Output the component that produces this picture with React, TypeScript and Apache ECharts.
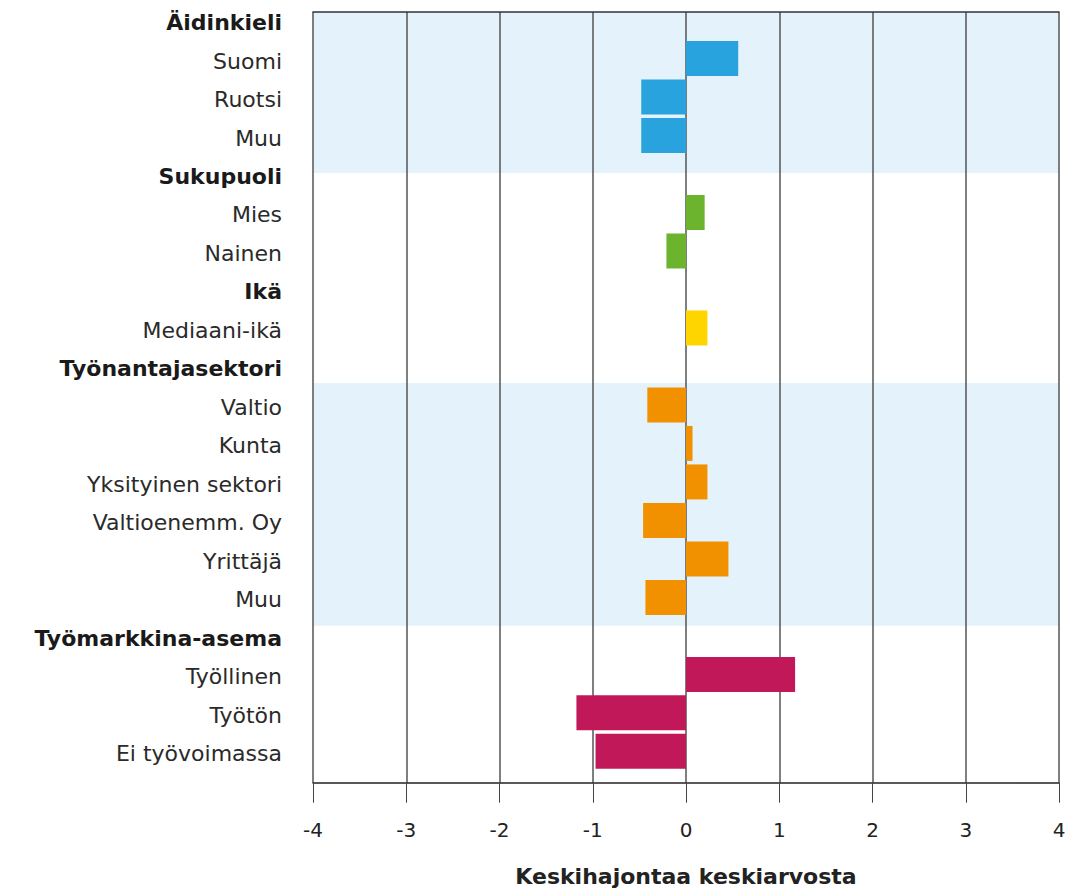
import React, { useEffect, useRef } from "react";
import * as echarts from "echarts";

const groupNames = ["Äidinkieli", "Sukupuoli", "Ikä", "Työnantajasektori", "Työmarkkina-asema"];
const groupItems = [
  ["Suomi", "Ruotsi", "Muu"],
  ["Mies", "Nainen"],
  ["Mediaani-ikä"],
  ["Valtio", "Kunta", "Yksityinen sektori", "Valtioenemm. Oy", "Yrittäjä", "Muu"],
  ["Työllinen", "Työtön", "Ei työvoimassa"],
];
const groupValues = [
  [0.56, -0.48, -0.48],
  [0.2, -0.21],
  [0.23],
  [-0.415, 0.07, 0.23, -0.46, 0.455, -0.435],
  [1.17, -1.175, -0.97],
];
const groupColors = ["#29a3dd", "#6db42e", "#ffd500", "#f29100", "#c1185a"];
const xTicks = [-4, -3, -2, -1, 0, 1, 2, 3, 4];
const axisTitle = "Keskihajontaa keskiarvosta";
// shaded bands, in frame row units (0 = top of frame, 20 = bottom)
const bandRows = [
  [0, 4.18],
  [9.63, 15.93],
];

const FONT = "'DejaVu Sans', sans-serif";

export default function App() {
  const ref = useRef<HTMLDivElement>(null);
  useEffect(() => {
    document.body.style.margin = "0";
    const chart = echarts.init(ref.current!, null, { renderer: "svg" });

    const categories: string[] = [];
    const isHeader: boolean[] = [];
    const barData: any[] = [];
    groupNames.forEach((g, gi) => {
      categories.push(g);
      isHeader.push(true);
      barData.push(null);
      groupItems[gi].forEach((it, ii) => {
        categories.push(it);
        isHeader.push(false);
        barData.push({ value: groupValues[gi][ii], itemStyle: { color: groupColors[gi] } });
      });
    });

    const left = 313;
    const width = 746;
    const rowH = 38.49;
    const option: any = {
      animation: false,
      backgroundColor: "#ffffff",
      grid: [
        { left, width, top: 0.8, height: rowH * 20, containLabel: false, outerBoundsMode: "none", z: 5 },
        { left, width, top: 12, height: 770.7, containLabel: false, outerBoundsMode: "none", z: 2 },
      ],
      xAxis: [
        { gridIndex: 0, type: "value", min: -4, max: 4, show: false },
        {
          gridIndex: 1,
          type: "value",
          min: xTicks[0],
          max: xTicks[xTicks.length - 1],
          interval: 1,
          position: "bottom",
          z: 2,
          axisLine: { show: true, onZero: false, lineStyle: { color: "#222", width: 1.5 } },
          axisTick: { show: true, inside: false, length: 20, lineStyle: { color: "#444", width: 1 } },
          splitLine: { show: true, lineStyle: { color: "#555", width: 1.5 } },
          axisLabel: { fontFamily: FONT, fontSize: 20, color: "#222", margin: 37 },
          name: axisTitle,
          nameLocation: "middle",
          nameGap: 83,
          nameTextStyle: { fontFamily: FONT, fontSize: 22, fontWeight: "bold", color: "#222" },
        },
        {
          gridIndex: 1,
          type: "value",
          min: -4,
          max: 4,
          position: "top",
          z: 2,
          axisLine: { show: true, onZero: false, lineStyle: { color: "#333", width: 1.5 } },
          axisTick: { show: false },
          axisLabel: { show: false },
          splitLine: { show: false },
        },
      ],
      yAxis: [
        {
          gridIndex: 0,
          type: "category",
          inverse: true,
          data: categories,
          axisLine: { show: false },
          axisTick: { show: false },
          splitLine: { show: false },
          axisLabel: {
            margin: 31,
            formatter: (v: string, i: number) => (isHeader[i] ? `{h|${v}}` : `{n|${v}}`),
            rich: {
              h: { fontFamily: FONT, fontSize: 22, fontWeight: "bold", color: "#1a1a1a", padding: [5, 0, 0, 0] },
              n: { fontFamily: FONT, fontSize: 22, color: "#2a2a2a", padding: [5, 0, 0, 0] },
            },
          },
        },
        {
          gridIndex: 1,
          type: "value",
          min: 0,
          max: 20,
          inverse: true,
          show: false,
          splitLine: { show: false },
        },
      ],
      series: [
        {
          type: "line",
          xAxisIndex: 1,
          yAxisIndex: 1,
          data: [],
          z: 0,
          silent: true,
          markArea: {
            silent: true,
            z: 0,
            itemStyle: { color: "#e4f3fb" },
            data: bandRows.map((b) => [
              { xAxis: -4, yAxis: b[0] },
              { xAxis: 4, yAxis: b[1] },
            ]),
          },
        },
        {
          type: "bar",
          xAxisIndex: 0,
          yAxisIndex: 0,
          data: barData,
          barWidth: 35,
          z: 3,
        },
      ],
    };
    chart.setOption(option);
    return () => chart.dispose();
  }, []);
  return <div ref={ref} style={{ width: 1070, height: 890 }} />;
}
